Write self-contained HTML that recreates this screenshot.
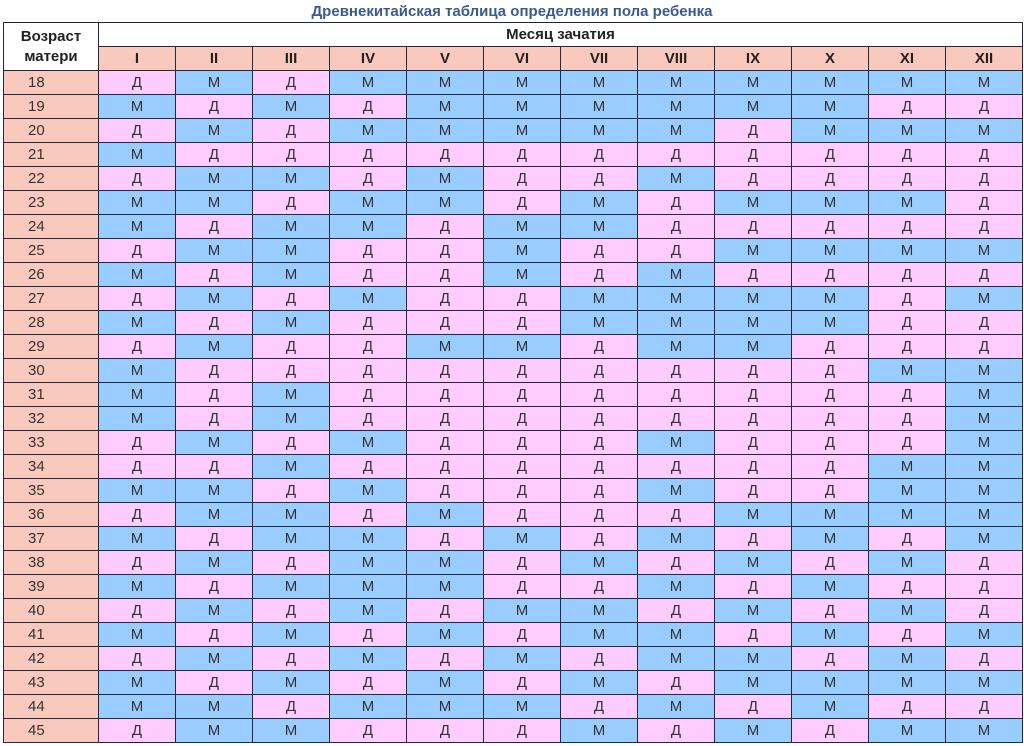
<!DOCTYPE html>
<html><head><meta charset="utf-8"><style>
body{margin:0;width:1024px;height:746px;background:#fff;overflow:hidden;font-family:"Liberation Sans",sans-serif;}
.t{position:absolute;top:3px;left:0;width:1024px;text-align:center;font-weight:bold;font-size:15px;color:#3b5a8c;}
table{position:absolute;left:3px;top:22px;border-collapse:collapse;table-layout:fixed;width:1020px;}
td{border:1.5px solid #23283a;text-align:center;font-size:15px;color:#333;padding:0;height:23px;line-height:20px;}
td.a{background:#f9c9bd;text-align:left;padding-left:24px;}
td.m{background:#99ccff;}
td.d{background:#ffccff;}
.h{font-weight:bold;color:#222;background:#fff;}
.mo{background:#f9c9bd;font-weight:bold;color:#222;}
</style></head><body>
<div class="t">Древнекитайская таблица определения пола ребенка</div>
<table>
<colgroup><col style="width:95px"><col span="12" style="width:77px"></colgroup>
<tr><td class="h" rowspan="2" style="line-height:20px;height:47px">Возраст<br>матери</td><td class="h" colspan="12">Месяц зачатия</td></tr>
<tr><td class="mo">I</td><td class="mo">II</td><td class="mo">III</td><td class="mo">IV</td><td class="mo">V</td><td class="mo">VI</td><td class="mo">VII</td><td class="mo">VIII</td><td class="mo">IX</td><td class="mo">X</td><td class="mo">XI</td><td class="mo">XII</td></tr>
<tr><td class="a">18</td><td class="d">Д</td><td class="m">М</td><td class="d">Д</td><td class="m">М</td><td class="m">М</td><td class="m">М</td><td class="m">М</td><td class="m">М</td><td class="m">М</td><td class="m">М</td><td class="m">М</td><td class="m">М</td></tr>
<tr><td class="a">19</td><td class="m">М</td><td class="d">Д</td><td class="m">М</td><td class="d">Д</td><td class="m">М</td><td class="m">М</td><td class="m">М</td><td class="m">М</td><td class="m">М</td><td class="m">М</td><td class="d">Д</td><td class="d">Д</td></tr>
<tr><td class="a">20</td><td class="d">Д</td><td class="m">М</td><td class="d">Д</td><td class="m">М</td><td class="m">М</td><td class="m">М</td><td class="m">М</td><td class="m">М</td><td class="d">Д</td><td class="m">М</td><td class="m">М</td><td class="m">М</td></tr>
<tr><td class="a">21</td><td class="m">М</td><td class="d">Д</td><td class="d">Д</td><td class="d">Д</td><td class="d">Д</td><td class="d">Д</td><td class="d">Д</td><td class="d">Д</td><td class="d">Д</td><td class="d">Д</td><td class="d">Д</td><td class="d">Д</td></tr>
<tr><td class="a">22</td><td class="d">Д</td><td class="m">М</td><td class="m">М</td><td class="d">Д</td><td class="m">М</td><td class="d">Д</td><td class="d">Д</td><td class="m">М</td><td class="d">Д</td><td class="d">Д</td><td class="d">Д</td><td class="d">Д</td></tr>
<tr><td class="a">23</td><td class="m">М</td><td class="m">М</td><td class="d">Д</td><td class="m">М</td><td class="m">М</td><td class="d">Д</td><td class="m">М</td><td class="d">Д</td><td class="m">М</td><td class="m">М</td><td class="m">М</td><td class="d">Д</td></tr>
<tr><td class="a">24</td><td class="m">М</td><td class="d">Д</td><td class="m">М</td><td class="m">М</td><td class="d">Д</td><td class="m">М</td><td class="m">М</td><td class="d">Д</td><td class="d">Д</td><td class="d">Д</td><td class="d">Д</td><td class="d">Д</td></tr>
<tr><td class="a">25</td><td class="d">Д</td><td class="m">М</td><td class="m">М</td><td class="d">Д</td><td class="d">Д</td><td class="m">М</td><td class="d">Д</td><td class="d">Д</td><td class="m">М</td><td class="m">М</td><td class="m">М</td><td class="m">М</td></tr>
<tr><td class="a">26</td><td class="m">М</td><td class="d">Д</td><td class="m">М</td><td class="d">Д</td><td class="d">Д</td><td class="m">М</td><td class="d">Д</td><td class="m">М</td><td class="d">Д</td><td class="d">Д</td><td class="d">Д</td><td class="d">Д</td></tr>
<tr><td class="a">27</td><td class="d">Д</td><td class="m">М</td><td class="d">Д</td><td class="m">М</td><td class="d">Д</td><td class="d">Д</td><td class="m">М</td><td class="m">М</td><td class="m">М</td><td class="m">М</td><td class="d">Д</td><td class="m">М</td></tr>
<tr><td class="a">28</td><td class="m">М</td><td class="d">Д</td><td class="m">М</td><td class="d">Д</td><td class="d">Д</td><td class="d">Д</td><td class="m">М</td><td class="m">М</td><td class="m">М</td><td class="m">М</td><td class="d">Д</td><td class="d">Д</td></tr>
<tr><td class="a">29</td><td class="d">Д</td><td class="m">М</td><td class="d">Д</td><td class="d">Д</td><td class="m">М</td><td class="m">М</td><td class="d">Д</td><td class="m">М</td><td class="m">М</td><td class="d">Д</td><td class="d">Д</td><td class="d">Д</td></tr>
<tr><td class="a">30</td><td class="m">М</td><td class="d">Д</td><td class="d">Д</td><td class="d">Д</td><td class="d">Д</td><td class="d">Д</td><td class="d">Д</td><td class="d">Д</td><td class="d">Д</td><td class="d">Д</td><td class="m">М</td><td class="m">М</td></tr>
<tr><td class="a">31</td><td class="m">М</td><td class="d">Д</td><td class="m">М</td><td class="d">Д</td><td class="d">Д</td><td class="d">Д</td><td class="d">Д</td><td class="d">Д</td><td class="d">Д</td><td class="d">Д</td><td class="d">Д</td><td class="m">М</td></tr>
<tr><td class="a">32</td><td class="m">М</td><td class="d">Д</td><td class="m">М</td><td class="d">Д</td><td class="d">Д</td><td class="d">Д</td><td class="d">Д</td><td class="d">Д</td><td class="d">Д</td><td class="d">Д</td><td class="d">Д</td><td class="m">М</td></tr>
<tr><td class="a">33</td><td class="d">Д</td><td class="m">М</td><td class="d">Д</td><td class="m">М</td><td class="d">Д</td><td class="d">Д</td><td class="d">Д</td><td class="m">М</td><td class="d">Д</td><td class="d">Д</td><td class="d">Д</td><td class="m">М</td></tr>
<tr><td class="a">34</td><td class="d">Д</td><td class="d">Д</td><td class="m">М</td><td class="d">Д</td><td class="d">Д</td><td class="d">Д</td><td class="d">Д</td><td class="d">Д</td><td class="d">Д</td><td class="d">Д</td><td class="m">М</td><td class="m">М</td></tr>
<tr><td class="a">35</td><td class="m">М</td><td class="m">М</td><td class="d">Д</td><td class="m">М</td><td class="d">Д</td><td class="d">Д</td><td class="d">Д</td><td class="m">М</td><td class="d">Д</td><td class="d">Д</td><td class="m">М</td><td class="m">М</td></tr>
<tr><td class="a">36</td><td class="d">Д</td><td class="m">М</td><td class="m">М</td><td class="d">Д</td><td class="m">М</td><td class="d">Д</td><td class="d">Д</td><td class="d">Д</td><td class="m">М</td><td class="m">М</td><td class="m">М</td><td class="m">М</td></tr>
<tr><td class="a">37</td><td class="m">М</td><td class="d">Д</td><td class="m">М</td><td class="m">М</td><td class="d">Д</td><td class="m">М</td><td class="d">Д</td><td class="m">М</td><td class="d">Д</td><td class="m">М</td><td class="d">Д</td><td class="m">М</td></tr>
<tr><td class="a">38</td><td class="d">Д</td><td class="m">М</td><td class="d">Д</td><td class="m">М</td><td class="m">М</td><td class="d">Д</td><td class="m">М</td><td class="d">Д</td><td class="m">М</td><td class="d">Д</td><td class="m">М</td><td class="d">Д</td></tr>
<tr><td class="a">39</td><td class="m">М</td><td class="d">Д</td><td class="m">М</td><td class="m">М</td><td class="m">М</td><td class="d">Д</td><td class="d">Д</td><td class="m">М</td><td class="d">Д</td><td class="m">М</td><td class="d">Д</td><td class="d">Д</td></tr>
<tr><td class="a">40</td><td class="d">Д</td><td class="m">М</td><td class="d">Д</td><td class="m">М</td><td class="d">Д</td><td class="m">М</td><td class="m">М</td><td class="d">Д</td><td class="m">М</td><td class="d">Д</td><td class="m">М</td><td class="d">Д</td></tr>
<tr><td class="a">41</td><td class="m">М</td><td class="d">Д</td><td class="m">М</td><td class="d">Д</td><td class="m">М</td><td class="d">Д</td><td class="m">М</td><td class="m">М</td><td class="d">Д</td><td class="m">М</td><td class="d">Д</td><td class="m">М</td></tr>
<tr><td class="a">42</td><td class="d">Д</td><td class="m">М</td><td class="d">Д</td><td class="m">М</td><td class="d">Д</td><td class="m">М</td><td class="d">Д</td><td class="m">М</td><td class="m">М</td><td class="d">Д</td><td class="m">М</td><td class="d">Д</td></tr>
<tr><td class="a">43</td><td class="m">М</td><td class="d">Д</td><td class="m">М</td><td class="d">Д</td><td class="m">М</td><td class="d">Д</td><td class="m">М</td><td class="d">Д</td><td class="m">М</td><td class="m">М</td><td class="m">М</td><td class="m">М</td></tr>
<tr><td class="a">44</td><td class="m">М</td><td class="m">М</td><td class="d">Д</td><td class="m">М</td><td class="m">М</td><td class="m">М</td><td class="d">Д</td><td class="m">М</td><td class="d">Д</td><td class="m">М</td><td class="d">Д</td><td class="d">Д</td></tr>
<tr><td class="a">45</td><td class="d">Д</td><td class="m">М</td><td class="m">М</td><td class="d">Д</td><td class="d">Д</td><td class="d">Д</td><td class="m">М</td><td class="d">Д</td><td class="m">М</td><td class="d">Д</td><td class="m">М</td><td class="m">М</td></tr>
</table>
</body></html>
